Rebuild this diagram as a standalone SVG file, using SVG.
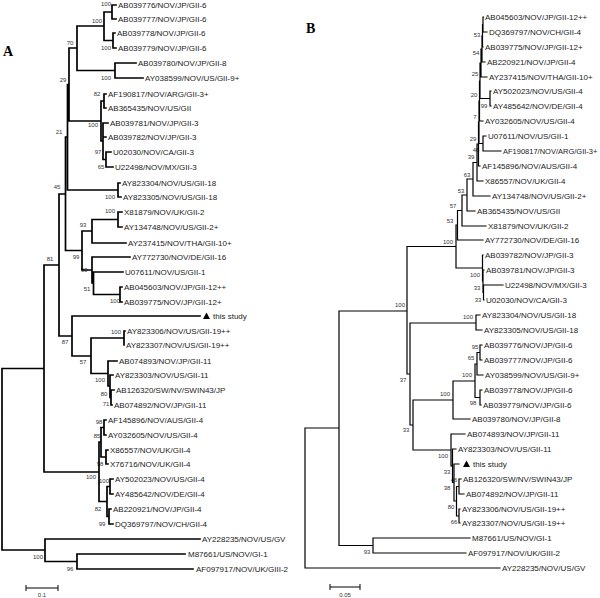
<svg xmlns="http://www.w3.org/2000/svg" width="600" height="598" viewBox="0 0 600 598">
<style>
.lf{font-family:"Liberation Sans",Arial,sans-serif;font-size:8px;fill:#1a1a1a}
.bs{font-family:"Liberation Sans",Arial,sans-serif;font-size:6px;fill:#333;text-anchor:middle}
.pl{font-family:"Liberation Serif","Times New Roman",serif;font-size:14px;font-weight:bold;fill:#000}
.ta{fill:none;stroke:#000;stroke-width:1.7;stroke-linecap:square}
.tb{fill:none;stroke:#000;stroke-width:1.2;stroke-linecap:square}
.sc{fill:none;stroke:#000;stroke-width:1}
</style>
<rect width="600" height="598" fill="#fff"/>
<text class="pl" x="3" y="56">A</text>
<text class="pl" x="306" y="33">B</text>
<g id="boot-A">
<text class="bs" x="106" y="6">100</text><text class="bs" x="97" y="23">100</text><text class="bs" x="106" y="50">100</text>
<text class="bs" x="70" y="45">70</text><text class="bs" x="106" y="80">100</text><text class="bs" x="63" y="82">29</text>
<text class="bs" x="97" y="96">82</text><text class="bs" x="93" y="127">100</text><text class="bs" x="98" y="154">97</text>
<text class="bs" x="101" y="169">65</text><text class="bs" x="59" y="134">21</text><text class="bs" x="110" y="199">100</text>
<text class="bs" x="57" y="189">45</text><text class="bs" x="110" y="213">100</text><text class="bs" x="83" y="227">93</text>
<text class="bs" x="76" y="259">99</text><text class="bs" x="84" y="272">90</text><text class="bs" x="87" y="291">51</text>
<text class="bs" x="115" y="303">100</text><text class="bs" x="50" y="261">81</text><text class="bs" x="65" y="344">87</text>
<text class="bs" x="116" y="334">100</text><text class="bs" x="83" y="364">57</text><text class="bs" x="100" y="382">100</text>
<text class="bs" x="104" y="396">80</text><text class="bs" x="106" y="406">71</text><text class="bs" x="99" y="424">98</text>
<text class="bs" x="97" y="438">85</text><text class="bs" x="100" y="466">98</text><text class="bs" x="91" y="479">100</text>
<text class="bs" x="104" y="483">100</text><text class="bs" x="98" y="511">82</text><text class="bs" x="102" y="526">99</text>
<text class="bs" x="38" y="559">100</text><text class="bs" x="70" y="571">96</text>
</g>
<g id="boot-B">
<text class="bs" x="477" y="37">53</text><text class="bs" x="476" y="55">54</text><text class="bs" x="475" y="76">25</text>
<text class="bs" x="474" y="97">20</text><text class="bs" x="484" y="108">99</text><text class="bs" x="475" y="119">7</text>
<text class="bs" x="473" y="141">29</text><text class="bs" x="476" y="152">46</text><text class="bs" x="471" y="159">39</text>
<text class="bs" x="467" y="177">63</text><text class="bs" x="461" y="193">53</text><text class="bs" x="453" y="208">57</text>
<text class="bs" x="450" y="223">53</text><text class="bs" x="448" y="244">100</text><text class="bs" x="475" y="277">100</text>
<text class="bs" x="477" y="290">33</text><text class="bs" x="478" y="302">33</text><text class="bs" x="400" y="307">100</text>
<text class="bs" x="468" y="319">100</text><text class="bs" x="475" y="349">95</text><text class="bs" x="471" y="360">65</text>
<text class="bs" x="467" y="377">100</text><text class="bs" x="403" y="382">37</text><text class="bs" x="445" y="396">100</text>
<text class="bs" x="473" y="405">98</text><text class="bs" x="406" y="432">33</text><text class="bs" x="443" y="458">100</text>
<text class="bs" x="447" y="474">33</text><text class="bs" x="454" y="482">46</text><text class="bs" x="447" y="490">38</text>
<text class="bs" x="451" y="509">80</text><text class="bs" x="454" y="524">66</text><text class="bs" x="367" y="554">93</text>
</g>
<g id="connectors">
<path class="ta" d="M2,368.5V550M2,368.5H44M2,550H45
M44,265V472M44,265H59M44,472H99
M59,194V336M59,194H65.5M59,336H72
M65.5,137V250.5M65.5,137H67.5M65.5,250.5H82
M67.5,84.5V190M67.5,84.5H69M67.5,190H118
M69,48V121M69,48H77M69,121H101
M77,26V70.5M77,26H104M77,70.5H115
M104,12V40.5M104,12H112M104,40.5H113
M112,5V19M112,5H116M112,19H116
M113,33V48M113,33H115M113,48H116
M115,63V78M115,63H136M115,78H143
M101,101V141M101,101H104M101,141H103
M104,94V108M104,94H106M104,108H106
M103,123V159.5M103,123H108M103,137H106M103,159.5H106
M106,152V167M106,152H111M106,167H113
M118,183V197M118,183H120M118,197H121
M82,231V270M82,231H92M82,270H92
M92,219.5V243M92,219.5H118M92,243H126
M118,212V227M118,212H122M118,227H122
M92,257V283M92,257H130M92,283H93.5
M93.5,272V294.5M93.5,272H123M93.5,294.5H120
M120,287V302M120,287H122M120,302H122
M72,316V356M72,316H200M72,356H91
M91,338V373.5M91,338H124M91,373.5H108
M124,331V345M124,331H125M124,345H124
M108,361V386M108,361H117M108,386H110
M110,375V397.5M110,375H113M110,397.5H111
M111,390V405M111,390H114M111,405H112
M99,442V501.5M99,442H101M99,501.5H107
M101,427.5V457M101,427.5H104M101,457H106
M104,420V435M104,420H106M104,435H106
M106,450V464M106,450H108M106,464H108
M107,486.5V516.5M107,486.5H110M107,516.5H109
M110,479V494M110,479H113M110,494H113
M109,509V524M109,509H111M109,524H113
M45,539V561.5M45,539H200M45,561.5H77
M77,554V569M77,554H185M77,569H193"/>
<path class="tb" d="M305,428V568M305,428H339M305,568H500
M339,311V545.5M339,311H407M339,545.5H373
M373,538V553M373,538H470M373,553H466
M407,246.5V374M407,246.5H456M407,374H410
M456,225V268M456,225H457.5M456,268H482.5
M457.5,210.5V240M457.5,210.5H462M457.5,240H483
M462,195V226M462,195H467M462,226H486
M467,179V211M467,179H473M467,211H475
M473,162.5V196M473,162.5H477M473,196H490
M477,144V181M477,144H478.5M477,181H483
M478.5,122V166M478.5,122H479M478.5,166H480
M479,101V143.5M479,101H479.5M479,143.5H483
M483,136V151M483,136H486M483,151H501
M479.5,81V121M479.5,81H480M479.5,121H483
M480,63V98.5M480,63H481M480,98.5H490
M490,91V106M490,91H491M490,106H491
M481,49V77M481,49H482M481,77H487
M482,35.75V62M482,35.75H482.5M482,62H485
M482.5,24.5V47M482.5,24.5H483M482.5,47H483
M483,17V32M483,17H483.5M483,32H487
M482.5,255V281M482.5,255H483M482.5,281H483
M483,270V292.5M483,270H484M483,292.5H483.5
M483.5,285V300M483.5,285H503M483.5,300H484
M410,323V425M410,323H476M410,425H413
M476,315V330M476,315H480M476,330H482
M413,400V450M413,400H453M413,450H451
M453,381V419M453,381H475M453,419H470
M475,364V397.5M475,364H477M475,397.5H480
M477,352.5V375M477,352.5H480M477,375H483
M480,345V360M480,345H482M480,360H482
M480,390V405M480,390H482M480,405H481
M451,434V466M451,434H465M451,466H452.5
M452.5,449V482.5M452.5,449H456M452.5,482.5H454
M454,464V501M454,464H459M454,501H456.5
M456.5,486.5V516M456.5,486.5H459M456.5,516H459
M459,479V494M459,479H461M459,494H464
M459,509V523M459,509H460M459,523H460"/>
</g>
<g id="scale-A">
<path class="sc" d="M26,588H58M26,585V591M58,585V591"/>
<text class="bs" x="42" y="597">0.1</text>
</g>
<g id="scale-B">
<path class="sc" d="M330,587H360M330,584V590M360,584V590"/>
<text class="bs" x="345" y="597">0.05</text>
</g>
<g id="leaves-A">
<g id="a1"><text class="lf" x="118" y="8">AB039776/NOV/JP/GII-6</text></g>
<g id="a2"><text class="lf" x="118" y="22">AB039777/NOV/JP/GII-6</text></g>
<g id="a3"><text class="lf" x="117" y="36">AB039778/NOV/JP/GII-6</text></g>
<g id="a4"><text class="lf" x="118" y="51">AB039779/NOV/JP/GII-6</text></g>
<g id="a5"><text class="lf" x="138" y="66">AB039780/NOV/JP/GII-8</text></g>
<g id="a6"><text class="lf" x="145" y="81">AY038599/NOV/US/GII-9+</text></g>
<g id="a7"><text class="lf" x="108" y="97">AF190817/NOV/ARG/GII-3+</text></g>
<g id="a8"><text class="lf" x="108" y="111">AB365435/NOV/US/GII</text></g>
<g id="a9"><text class="lf" x="110" y="126">AB039781/NOV/JP/GII-3</text></g>
<g id="a10"><text class="lf" x="108" y="140">AB039782/NOV/JP/GII-3</text></g>
<g id="a11"><text class="lf" x="113" y="155">U02030/NOV/CA/GII-3</text></g>
<g id="a12"><text class="lf" x="115" y="170">U22498/NOV/MX/GII-3</text></g>
<g id="a13"><text class="lf" x="122" y="186">AY823304/NOV/US/GII-18</text></g>
<g id="a14"><text class="lf" x="123" y="200">AY823305/NOV/US/GII-18</text></g>
<g id="a15"><text class="lf" x="124" y="215">X81879/NOV/UK/GII-2</text></g>
<g id="a16"><text class="lf" x="124" y="230">AY134748/NOV/US/GII-2+</text></g>
<g id="a17"><text class="lf" x="128" y="246">AY237415/NOV/THA/GII-10+</text></g>
<g id="a18"><text class="lf" x="132" y="260">AY772730/NOV/DE/GII-16</text></g>
<g id="a19"><text class="lf" x="125" y="275">U07611/NOV/US/GII-1</text></g>
<g id="a20"><text class="lf" x="124" y="290">AB045603/NOV/JP/GII-12++</text></g>
<g id="a21"><text class="lf" x="124" y="305">AB039775/NOV/JP/GII-12+</text></g>
<g id="a22"><path d="M203,319L206.5,312.5L210,319Z" fill="#000"/><text class="lf" x="213" y="319">this study</text></g>
<g id="a23"><text class="lf" x="127" y="334">AY823306/NOV/US/GII-19++</text></g>
<g id="a24"><text class="lf" x="126" y="348">AY823307/NOV/US/GII-19++</text></g>
<g id="a25"><text class="lf" x="119" y="364">AB074893/NOV/JP/GII-11</text></g>
<g id="a26"><text class="lf" x="115" y="378">AY823303/NOV/US/GII-11</text></g>
<g id="a27"><text class="lf" x="116" y="393">AB126320/SW/NV/SWIN43/JP</text></g>
<g id="a28"><text class="lf" x="114" y="408">AB074892/NOV/JP/GII-11</text></g>
<g id="a29"><text class="lf" x="108" y="423">AF145896/NOV/AUS/GII-4</text></g>
<g id="a30"><text class="lf" x="108" y="438">AY032605/NOV/US/GII-4</text></g>
<g id="a31"><text class="lf" x="110" y="453">X86557/NOV/UK/GII-4</text></g>
<g id="a32"><text class="lf" x="110" y="467">X76716/NOV/UK/GII-4</text></g>
<g id="a33"><text class="lf" x="115" y="482">AY502023/NOV/US/GII-4</text></g>
<g id="a34"><text class="lf" x="115" y="497">AY485642/NOV/DE/GII-4</text></g>
<g id="a35"><text class="lf" x="113" y="512">AB220921/NOV/JP/GII-4</text></g>
<g id="a36"><text class="lf" x="115" y="527">DQ369797/NOV/CH/GII-4</text></g>
<g id="a37"><text class="lf" x="202" y="542">AY228235/NOV/US/GV</text></g>
<g id="a38"><text class="lf" x="188" y="557">M87661/US/NOV/GI-1</text></g>
<g id="a39"><text class="lf" x="196" y="572">AF097917/NOV/UK/GIII-2</text></g>
</g>
<g id="leaves-B">
<g id="b1"><text class="lf" x="485" y="20">AB045603/NOV/JP/GII-12++</text></g>
<g id="b2"><text class="lf" x="489" y="35">DQ369797/NOV/CH/GII-4</text></g>
<g id="b3"><text class="lf" x="485" y="50">AB039775/NOV/JP/GII-12+</text></g>
<g id="b4"><text class="lf" x="487" y="65">AB220921/NOV/JP/GII-4</text></g>
<g id="b5"><text class="lf" x="489" y="80">AY237415/NOV/THA/GII-10+</text></g>
<g id="b6"><text class="lf" x="493" y="94">AY502023/NOV/US/GII-4</text></g>
<g id="b7"><text class="lf" x="493" y="109">AY485642/NOV/DE/GII-4</text></g>
<g id="b8"><text class="lf" x="485" y="124">AY032605/NOV/US/GII-4</text></g>
<g id="b9"><text class="lf" x="488" y="139">U07611/NOV/US/GII-1</text></g>
<g id="b10"><text class="lf" x="503" y="154" style="font-size:7.5px">AF190817/NOV/ARG/GII-3+</text></g>
<g id="b11"><text class="lf" x="482" y="169">AF145896/NOV/AUS/GII-4</text></g>
<g id="b12"><text class="lf" x="485" y="184">X86557/NOV/UK/GII-4</text></g>
<g id="b13"><text class="lf" x="492" y="199">AY134748/NOV/US/GII-2+</text></g>
<g id="b14"><text class="lf" x="477" y="214">AB365435/NOV/US/GII</text></g>
<g id="b15"><text class="lf" x="488" y="229">X81879/NOV/UK/GII-2</text></g>
<g id="b16"><text class="lf" x="485" y="243">AY772730/NOV/DE/GII-16</text></g>
<g id="b17"><text class="lf" x="485" y="258">AB039782/NOV/JP/GII-3</text></g>
<g id="b18"><text class="lf" x="486" y="273">AB039781/NOV/JP/GII-3</text></g>
<g id="b19"><text class="lf" x="505" y="288">U22498/NOV/MX/GII-3</text></g>
<g id="b20"><text class="lf" x="486" y="303">U02030/NOV/CA/GII-3</text></g>
<g id="b21"><text class="lf" x="482" y="318">AY823304/NOV/US/GII-18</text></g>
<g id="b22"><text class="lf" x="484" y="333">AY823305/NOV/US/GII-18</text></g>
<g id="b23"><text class="lf" x="484" y="348">AB039776/NOV/JP/GII-6</text></g>
<g id="b24"><text class="lf" x="484" y="363">AB039777/NOV/JP/GII-6</text></g>
<g id="b25"><text class="lf" x="485" y="378">AY038599/NOV/US/GII-9+</text></g>
<g id="b26"><text class="lf" x="484" y="393">AB039778/NOV/JP/GII-6</text></g>
<g id="b27"><text class="lf" x="483" y="408">AB039779/NOV/JP/GII-6</text></g>
<g id="b28"><text class="lf" x="472" y="422">AB039780/NOV/JP/GII-8</text></g>
<g id="b29"><text class="lf" x="467" y="437">AB074893/NOV/JP/GII-11</text></g>
<g id="b30"><text class="lf" x="458" y="452">AY823303/NOV/US/GII-11</text></g>
<g id="b31"><path d="M463,467L466.5,460.5L470,467Z" fill="#000"/><text class="lf" x="473" y="467">this study</text></g>
<g id="b32"><text class="lf" x="463" y="482">AB126320/SW/NV/SWIN43/JP</text></g>
<g id="b33"><text class="lf" x="466" y="497">AB074892/NOV/JP/GII-11</text></g>
<g id="b34"><text class="lf" x="462" y="512">AY823306/NOV/US/GII-19++</text></g>
<g id="b35"><text class="lf" x="462" y="526">AY823307/NOV/US/GII-19++</text></g>
<g id="b36"><text class="lf" x="472" y="541">M87661/US/NOV/GI-1</text></g>
<g id="b37"><text class="lf" x="468" y="556">AF097917/NOV/UK/GIII-2</text></g>
<g id="b38"><text class="lf" x="502" y="571">AY228235/NOV/US/GV</text></g>
</g>
</svg>
